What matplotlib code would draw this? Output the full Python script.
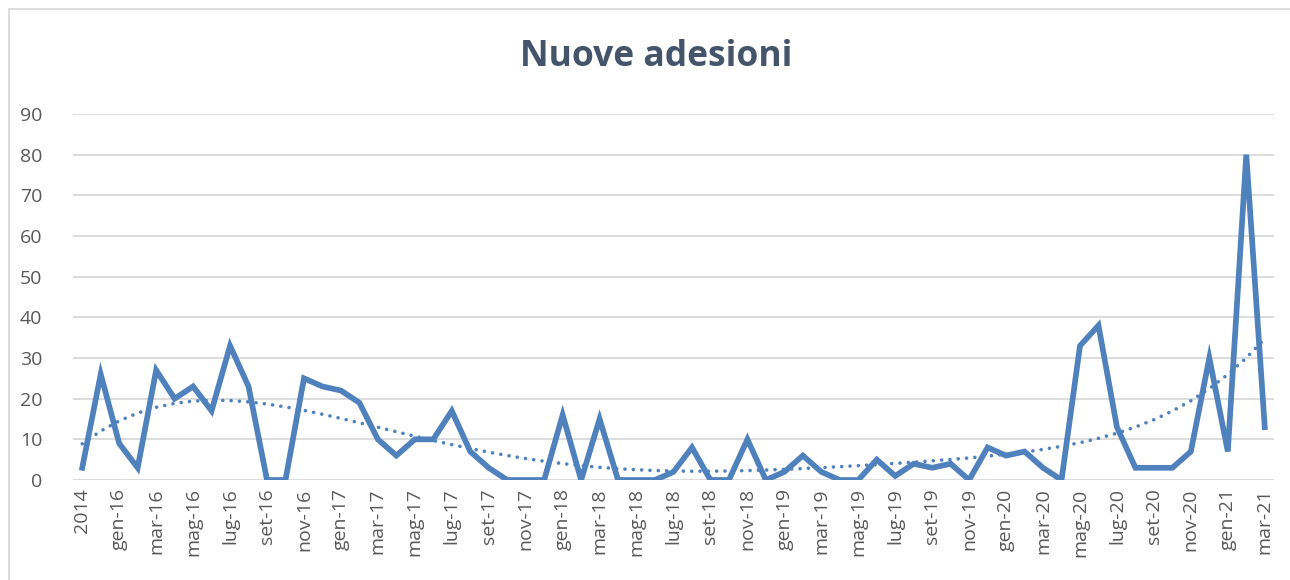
import numpy as np
import matplotlib
matplotlib.use("Agg")
import matplotlib.pyplot as plt
from matplotlib.patches import Rectangle

months = ["gen", "feb", "mar", "apr", "mag", "giu", "lug", "ago", "set", "ott", "nov", "dic"]
categories = ["2014", "2015"] + [f"{m}-{y}" for y in range(16, 22) for m in months][:63]

values = [3, 26, 9, 3, 27, 20, 23, 17, 33, 23, 0, 0, 25, 23, 22, 19, 10, 6, 10, 10,
          17, 7, 3, 0, 0, 0, 16, 0, 15, 0, 0, 0, 2, 8, 0, 0, 10, 0, 2, 6,
          2, 0, 0, 5, 1, 4, 3, 4, 0, 8, 6, 7, 3, 0, 33, 38, 13, 3, 3, 3,
          7, 30, 7, 80, 13]

title = "Nuove adesioni"
yticks = [0, 10, 20, 30, 40, 50, 60, 70, 80, 90]

plt.rcParams['font.family'] = ['Open Sans', 'DejaVu Sans']

fig = plt.figure(figsize=(12.9, 5.8), dpi=100)
ax = fig.add_axes([73/1290, 1 - 480/580, (1274 - 73)/1290, (480 - 114)/580])

x = np.arange(len(values))
blue = "#4F81BD"

# polynomial trendline (order 6, as in Excel)
coef = np.polyfit(x + 1, values, 6)
trend = np.polyval(coef, x + 1)
ax.plot(x, trend, color=blue, lw=2.6, linestyle=(0, (0.01, 2.3)),
        dash_capstyle='round', zorder=2)
ax.plot(x, values, color=blue, lw=4.1, solid_joinstyle='miter', zorder=3)

ax.set_xlim(-0.5, len(values) - 0.5)
ax.set_ylim(0, 90)
ax.set_yticks(yticks)
ax.set_yticklabels([str(v) for v in yticks])
ax.yaxis.grid(True, color="#D9D9D9", lw=1.3)
ax.set_axisbelow(True)
for s in ax.spines.values():
    s.set_visible(False)
ax.tick_params(axis='y', length=0, pad=22, labelsize=14, labelcolor="#595959")
ax.set_xticks(x[::2])
ax.set_xticklabels(categories[::2], rotation=90)
ax.tick_params(axis='x', length=0, pad=6, labelsize=14, labelcolor="#595959")

fig.text(656/1290, 1 - 57/580, title, ha='center', va='center',
         fontsize=25.5, fontweight='bold', color="#44546A")

fig.patches.append(Rectangle((9/1290, -0.1), 1.2, 1 - 9/580 + 0.1,
                             transform=fig.transFigure, fill=False,
                             edgecolor="#D9D9D9", lw=1.3))

fig.savefig("out.png", dpi=100)
